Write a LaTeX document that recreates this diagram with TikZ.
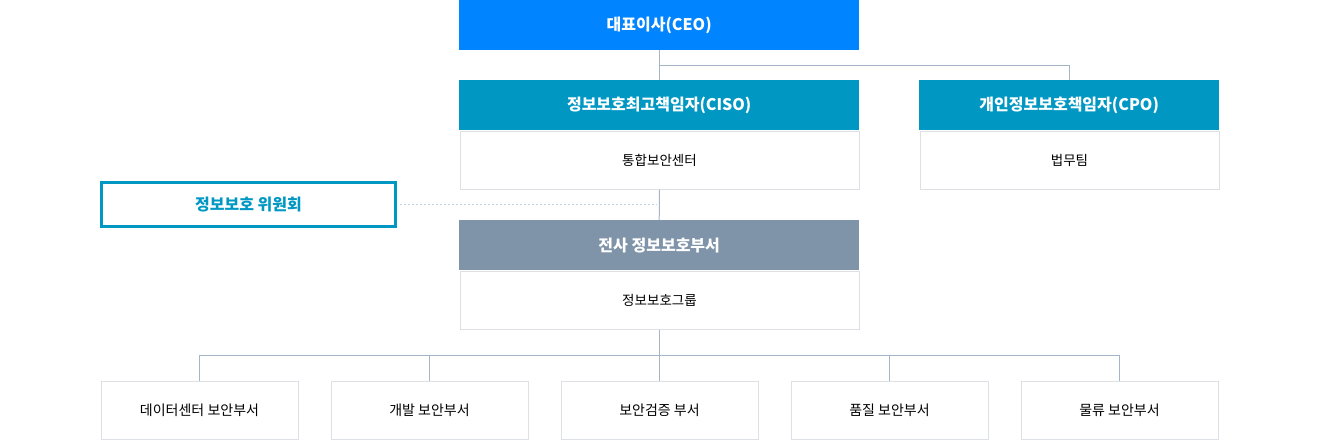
\documentclass[tikz,border=0pt]{standalone}
\usepackage{fontspec}
\setmainfont{Noto Sans CJK KR}
\definecolor{ceoblue}{HTML}{0084FF}
\definecolor{teal}{HTML}{0098C3}
\definecolor{slate}{HTML}{7F94A8}
\definecolor{linec}{HTML}{A3B5C7}
\definecolor{boxb}{HTML}{DDE0E5}
\definecolor{dotc}{HTML}{C5D0DB}
\begin{document}
\begin{tikzpicture}[x=1pt,y=-1pt,
  hdr/.style={anchor=north west,minimum width=400pt,minimum height=50pt,inner sep=0pt,text=white,font=\fontsize{16}{19}\selectfont\bfseries},
  bodybox/.style={anchor=north west,draw=boxb,line width=1pt,fill=white,minimum width=399pt,minimum height=58pt,inner sep=0pt,font=\fontsize{13.5}{16}\selectfont},
  subbox/.style={anchor=north west,draw=boxb,line width=1pt,fill=white,minimum width=197pt,minimum height=58pt,inner sep=0pt,font=\fontsize{14}{17}\selectfont},
  conn/.style={draw=linec,line width=1pt},
  dotconn/.style={draw=dotc,line width=1.2pt,dash pattern=on 2pt off 2pt},
  comm/.style={draw=teal,line width=3pt,minimum width=294pt,minimum height=44pt,inner sep=0pt,text=teal,font=\fontsize{16}{19}\selectfont\bfseries}]
\useasboundingbox (0,0) rectangle (1338,440);
% top
\node[hdr,fill=ceoblue] (ceo) at (459,0) {대표이사(CEO)};
\node[hdr,fill=teal] (ciso) at (459,80) {정보보호최고책임자(CISO)};
\node[bodybox] (cisob) at (459.5,130.5) {통합보안센터};
\node[hdr,fill=teal,minimum width=300pt] (cpo) at (919,80) {개인정보보호책임자(CPO)};
\node[bodybox,minimum width=299pt] (cpob) at (919.5,130.5) {법무팀};
\node[comm] (com) at (248.5,204.5) {정보보호 위원회};
\node[hdr,fill=slate] (dept) at (459,220) {전사 정보보호부서};
\node[bodybox] (deptb) at (459.5,270.5) {정보보호그룹};
% bottom
\node[subbox] (b1) at (100.5,380.5) {데이터센터 보안부서};
\node[subbox] (b2) at (330.5,380.5) {개발 보안부서};
\node[subbox] (b3) at (560.5,380.5) {보안검증 부서};
\node[subbox] (b4) at (790.5,380.5) {품질 보안부서};
\node[subbox] (b5) at (1020.5,380.5) {물류 보안부서};
% connectors
\draw[conn] (ceo.south) -- (ciso.north);
\draw[conn] (ceo.south) -- ++(0,15) coordinate (br) -| (cpo.north);
\draw[conn] (cisob.south) -- (dept.north);
\draw[dotconn] ([xshift=3pt]com.east) -- ([xshift=-3pt]com.east -| cisob.south);
\draw[conn] (deptb.south) -- ++(0,26) coordinate (hub);
\foreach \b in {b1,b2,b3,b4,b5} { \draw[conn] (hub) -| (\b.north); }
\end{tikzpicture}
\end{document}
